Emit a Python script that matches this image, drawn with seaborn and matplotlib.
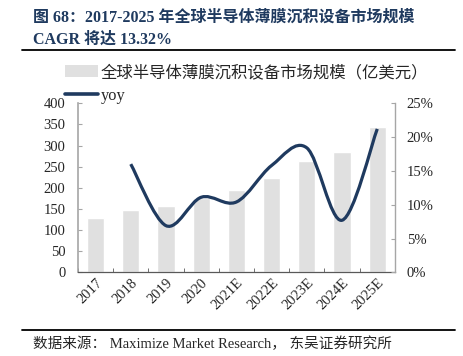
import numpy as np
import pandas as pd
import matplotlib
matplotlib.use("Agg")
import matplotlib.pyplot as plt
from matplotlib.path import Path
from matplotlib.patches import PathPatch, Patch
from matplotlib.lines import Line2D
import seaborn as sns

# data
years = ["2017", "2018", "2019", "2020", "2021E", "2022E", "2023E", "2024E", "2025E"]
market_size = [128, 148, 157, 175, 194, 222, 263, 284, 343]   # 亿美元
yoy = [np.nan, 16.0, 6.9, 11.1, 10.4, 15.8, 18.4, 7.7, 21.2]   # %

bar_label = "全球半导体薄膜沉积设备市场规模（亿美元）"
line_label = "yoy"
title = "图 68：2017-2025 年全球半导体薄膜沉积设备市场规模\nCAGR 将达 13.32%"
source = "数据来源： Maximize Market Research， 东吴证券研究所"

sns.set_style("white")
plt.rcParams['font.family'] = ['Liberation Serif', 'Noto Sans CJK SC', 'DejaVu Sans']

navy = "#1F3A5F"
bar_grey = "#E0E0E0"
spine_grey = "#A6A6A6"

df = pd.DataFrame({"year": years, "size": market_size, "yoy": yoy})

fig = plt.figure(figsize=(4.64, 3.56), dpi=100)
ax = fig.add_axes([0.168, 0.235, 0.683, 0.475])

sns.barplot(data=df, x="year", y="size", color=bar_grey, width=0.49,
            saturation=1, ax=ax)
ax.set_xlim(-0.5, len(years) - 0.5)
ax.set_ylim(0, 400)
ax.set_yticks(range(0, 401, 50))
ax.set_xlabel("")
ax.set_ylabel("")

# right axis with the smoothed yoy line (Catmull-Rom drawn as bezier path)
ax2 = ax.twinx()
ax2.set_ylim(0, 25)
ax2.set_yticks(range(0, 26, 5))
ax2.set_yticklabels([f"{v}%" for v in range(0, 26, 5)])

pts = df.dropna(subset=["yoy"])
px = pts.index.to_numpy(dtype=float)
py = pts["yoy"].to_numpy()
P = np.column_stack([px, py])
ext = np.vstack([P[0], P, P[-1]])
verts = [tuple(P[0])]
codes = [Path.MOVETO]
for i in range(1, len(ext) - 2):
    p0, p1, p2, p3 = ext[i - 1], ext[i], ext[i + 1], ext[i + 2]
    c1 = p1 + (p2 - p0) / 6
    c2 = p2 - (p3 - p1) / 6
    verts += [tuple(c1), tuple(c2), tuple(p2)]
    codes += [Path.CURVE4] * 3
ax2.add_patch(PathPatch(Path(verts, codes), facecolor="none", edgecolor=navy,
                        lw=2.3, capstyle="butt", zorder=3))

# styling of spines and ticks
for a in (ax, ax2):
    a.spines["top"].set_visible(False)
ax.spines["right"].set_visible(False)
ax2.spines["left"].set_visible(False)
ax2.spines["bottom"].set_visible(False)
ax.spines["left"].set_color(spine_grey)
ax.spines["left"].set_linewidth(1.2)
ax2.spines["right"].set_color(spine_grey)
ax2.spines["right"].set_linewidth(1.0)
ax.spines["bottom"].set_color("#595959")
ax.spines["bottom"].set_linewidth(0.9)

ax.tick_params(axis="y", direction="in", length=3, color=spine_grey,
               labelsize=10.5, pad=9, left=True)
ax2.tick_params(axis="y", direction="in", length=3, color=spine_grey,
                labelsize=10.5, pad=8.5, right=True)
ax.set_xticks(np.arange(-0.5, len(years), 1), minor=True)
ax.tick_params(axis="x", which="minor", direction="in", length=3,
               color="#595959", bottom=True)
ax.tick_params(axis="x", which="major", length=0, labelsize=10.5, pad=3)
for lbl in ax.get_xticklabels():
    lbl.set_rotation(45)
    lbl.set_ha("right")
    lbl.set_rotation_mode("anchor")

handles = [Patch(facecolor=bar_grey, edgecolor="none"),
           Line2D([0], [0], color=navy, lw=2.6)]
fig.legend(handles, [bar_label, line_label], loc="upper left",
           bbox_to_anchor=(0.14, 0.818), frameon=False, fontsize=11.8,
           handlelength=2.0, handletextpad=0.2, labelspacing=0.45,
           borderaxespad=0, borderpad=0)

fig.text(0.071, 0.972, title, ha="left", va="top", fontsize=11.5,
         fontweight="bold", color=navy, linespacing=1.5)
fig.add_artist(Line2D([0.047, 0.981], [0.86, 0.86], color="black", lw=1.3))
fig.add_artist(Line2D([0.047, 0.981], [0.073, 0.073], color="black", lw=1.3))
fig.text(0.071, 0.034, source, ha="left", va="center", fontsize=10.5)

plt.savefig("out.png", dpi=100)
